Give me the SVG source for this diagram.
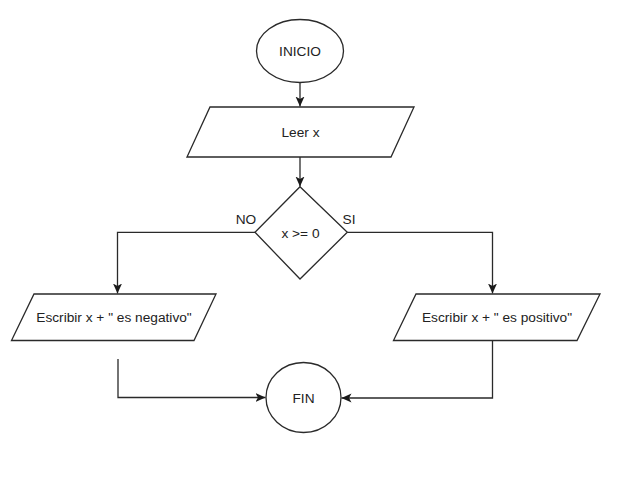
<svg xmlns="http://www.w3.org/2000/svg" width="617" height="487" viewBox="0 0 617 487">
<defs>
<style>
.shape{fill:#ffffff;stroke:#2a2a2a;stroke-width:1.3}
.conn{fill:none;stroke:#2a2a2a;stroke-width:1.3}
.lbl{font-family:"Liberation Sans",Arial,sans-serif;font-size:13.7px;fill:#222222;text-anchor:middle}
</style>
<marker id="arr" markerUnits="userSpaceOnUse" markerWidth="11" markerHeight="10" refX="10" refY="4.5" orient="auto">
<path d="M0,0 L10,4.5 L0,9 L2.5,4.5 Z" fill="#1a1a1a"/>
</marker>
</defs>
<rect width="617" height="487" fill="#ffffff"/>
<g id="connectors">
<path class="conn" d="M300,82.5 L300,106.5" marker-end="url(#arr)"/>
<path class="conn" d="M300,157 L300,186.5" marker-end="url(#arr)"/>
<path class="conn" d="M255,232.3 L117.5,232.3 L117.5,293.5" marker-end="url(#arr)"/>
<path class="conn" d="M347.3,232.3 L492.5,232.3 L492.5,293.5" marker-end="url(#arr)"/>
<path class="conn" d="M118,359 L118,397.5 L265.5,397.5" marker-end="url(#arr)"/>
<path class="conn" d="M492.5,341 L492.5,398 L341.5,398" marker-end="url(#arr)"/>
</g>
<g id="inicio">
<ellipse class="shape" cx="300" cy="51" rx="43.5" ry="31.5"/>
<text class="lbl" x="300" y="56">INICIO</text>
</g>
<g id="leer">
<polygon class="shape" points="210,107 414,107 391,157 187,157"/>
<text class="lbl" x="300.5" y="137">Leer x</text>
</g>
<g id="decision">
<polygon class="shape" points="300,186.7 347.3,232.3 300,279 255,232.3"/>
<text class="lbl" x="300.5" y="237.5">x &gt;= 0</text>
</g>
<g id="labels">
<text class="lbl" x="246" y="224">NO</text>
<text class="lbl" x="349" y="224">SI</text>
</g>
<g id="negativo">
<polygon class="shape" points="34,294 216,294 194,340.5 11.5,340.5"/>
<text class="lbl" x="114" y="321.5">Escribir x + " es negativo"</text>
</g>
<g id="positivo">
<polygon class="shape" points="416,294 600,294 577,340.5 393.5,340.5"/>
<text class="lbl" x="497" y="321.5">Escribir x + " es positivo"</text>
</g>
<g id="fin">
<ellipse class="shape" cx="303.5" cy="397.5" rx="37.5" ry="35"/>
<text class="lbl" x="303.5" y="402.5">FIN</text>
</g>
</svg>
